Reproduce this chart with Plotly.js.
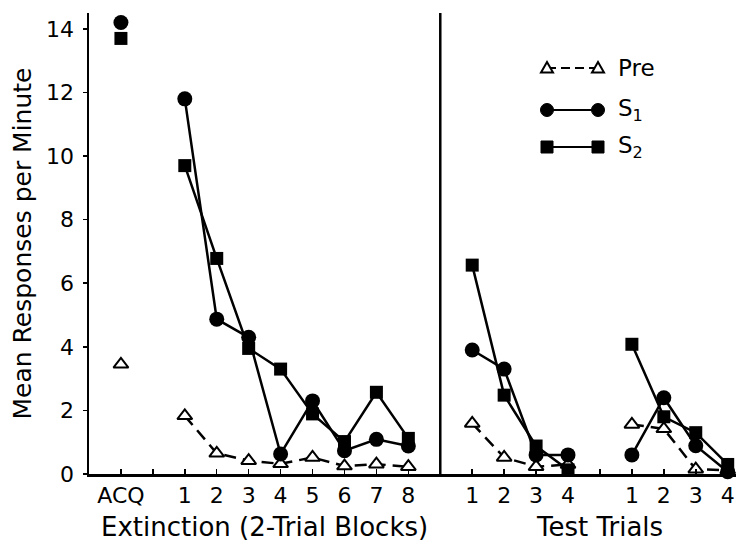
<!DOCTYPE html>
<html>
<head>
<meta charset="utf-8">
<script src="https://cdn.plot.ly/plotly-3.0.1.min.js"></script>
<style>html,body{margin:0;padding:0;background:#fff;}#chart{width:736px;height:547px;}</style>
</head>
<body>
<div id="chart"></div>
<script>
// ---- data ----
const acqLabel = 'ACQ';
const extBlocks = ['1','2','3','4','5','6','7','8'];
const testTrials = ['1','2','3','4'];
const seriesNames = ['Pre', 'S<sub>1</sub>', 'S<sub>2</sub>'];

const preAcq = 3.45;
const s1Acq = 14.2;
const s2Acq = 13.7;

const preExt = [1.83, 0.65, 0.42, 0.32, 0.52, 0.25, 0.31, 0.23];
const s1Ext  = [11.8, 4.87, 4.3, 0.63, 2.3, 0.73, 1.09, 0.88];
const s2Ext  = [9.7, 6.78, 3.95, 3.3, 1.89, 1.02, 2.57, 1.12];

const preTest1 = [1.59, 0.52, 0.23, 0.3];
const s1Test1  = [3.9, 3.3, 0.6, 0.6];
const s2Test1  = [6.57, 2.48, 0.88, 0.13];

const preTest2 = [1.56, 1.42, 0.15, 0.12];
const s1Test2  = [0.6, 2.4, 0.89, 0.07];
const s2Test2  = [4.08, 1.8, 1.3, 0.3];

// ---- positions on a shared numeric x axis ----
const xAcq = 0;
const xExt = extBlocks.map((_, i) => 2 + i);          // 2..9
const dividerX = 10;
const xTest1 = testTrials.map((_, i) => 11 + i);      // 11..14
const xTest2 = testTrials.map((_, i) => 16 + i);      // 16..19

function build(acq, ext, t1, t2) {
  const x = [xAcq, null].concat(xExt, [null], xTest1, [null], xTest2);
  const y = [acq, null].concat(ext, [null], t1, [null], t2);
  return {x, y};
}

const tickvals = [xAcq].concat(xExt, xTest1, xTest2);
const ticktext = [acqLabel].concat(extBlocks, testTrials, testTrials);

const pre = build(preAcq, preExt, preTest1, preTest2);
const s1 = build(s1Acq, s1Ext, s1Test1, s1Test2);
const s2 = build(s2Acq, s2Ext, s2Test1, s2Test2);

const traces = [
  {x: pre.x, y: pre.y, name: seriesNames[0], type: 'scatter', mode: 'lines+markers', connectgaps: false,
   cliponaxis: false, showlegend: false,
   line: {color: '#000', width: 2.5, dash: '12px,7px'},
   marker: {symbol: 'triangle-up', size: 13, color: '#fff', line: {color: '#000', width: 2}}},
  {x: s1.x, y: s1.y, name: seriesNames[1], type: 'scatter', mode: 'lines+markers', connectgaps: false,
   cliponaxis: false, showlegend: false,
   line: {color: '#000', width: 2.5},
   marker: {symbol: 'circle', size: 15, color: '#000'}},
  {x: s2.x, y: s2.y, name: seriesNames[2], type: 'scatter', mode: 'lines+markers', connectgaps: false,
   cliponaxis: false, showlegend: false,
   line: {color: '#000', width: 2.5},
   marker: {symbol: 'square', size: 13, color: '#000'}}
];

const font = 'DejaVu Sans, Liberation Sans, Arial, sans-serif';

// ---- page geometry (pixels) ----
const W = 736, H = 547;
const M = {l: 89, r: 0, t: 13, b: 73};
const PW = W - M.l - M.r, PH = H - M.t - M.b;
const px2paperX = px => (px - M.l) / PW;
const px2paperY = py => (H - M.b - py) / PH;

// ---- hand-built legend (two markers joined by a line, like the original) ----
const legRows = [68, 110, 147];
const legLeft = 547, legRight = 598, legText = 616;
const legShapes = [];
const legAnn = [];
legRows.forEach((py, i) => {
  const yP = px2paperY(py);
  legShapes.push({type: 'line', xref: 'paper', yref: 'paper',
    x0: px2paperX(legLeft), x1: px2paperX(legRight), y0: yP, y1: yP,
    line: {color: '#000', width: 2, dash: i === 0 ? '9px,5px' : 'solid'}});
  [legLeft, legRight].forEach(mx => {
    const base = {xref: 'paper', yref: 'paper', xsizemode: 'pixel', ysizemode: 'pixel',
                  xanchor: px2paperX(mx), yanchor: yP};
    if (i === 0) {
      legShapes.push(Object.assign({type: 'path', path: 'M-6,-4.5 L6,-4.5 L0,6 Z',
        fillcolor: '#fff', line: {color: '#000', width: 2}}, base));
    } else if (i === 1) {
      legShapes.push(Object.assign({type: 'circle', x0: -6.5, x1: 6.5, y0: -6.5, y1: 6.5,
        fillcolor: '#000', line: {color: '#000', width: 1}}, base));
    } else {
      legShapes.push(Object.assign({type: 'rect', x0: -6, x1: 6, y0: -6, y1: 6,
        fillcolor: '#000', line: {color: '#000', width: 1}}, base));
    }
  });
  legAnn.push({text: seriesNames[i], xref: 'paper', yref: 'paper', x: px2paperX(legText), y: yP,
    xanchor: 'left', yanchor: 'middle', showarrow: false, font: {size: 23, family: font}});
});

const layout = {
  width: W, height: H,
  margin: M,
  paper_bgcolor: '#fff', plot_bgcolor: '#fff',
  font: {family: font, color: '#000', size: 22},
  showlegend: false,
  xaxis: {
    range: [-1, 19.26], showgrid: false, zeroline: false,
    showline: true, linecolor: '#000', linewidth: 2.5,
    ticks: 'inside', ticklen: 5, tickwidth: 1.5, tickcolor: '#000',
    tickmode: 'array', tickvals: tickvals, ticktext: ticktext,
    tickfont: {size: 22, family: font},
    minor: {ticks: 'inside', ticklen: 5, tickwidth: 1.5, tickcolor: '#000', tick0: 0, dtick: 1, showgrid: false}
  },
  yaxis: {
    range: [0, 14.5], showgrid: false, zeroline: false,
    showline: true, linecolor: '#000', linewidth: 2.5,
    ticks: 'outside', ticklen: 4, tickwidth: 1.5, tickcolor: '#000',
    tickvals: [0, 2, 4, 6, 8, 10, 12, 14], ticklabelstandoff: 4,
    tickfont: {size: 22, family: font},
    title: {text: 'Mean Responses per Minute', font: {size: 25, family: font}, standoff: 8}
  },
  shapes: [
    {type: 'line', xref: 'x', yref: 'y', x0: dividerX, x1: dividerX, y0: 0, y1: 14.5,
     line: {color: '#000', width: 2.5}}
  ].concat(legShapes),
  annotations: [
    {text: 'Extinction (2-Trial Blocks)', xref: 'x', yref: 'paper', x: (xAcq + xExt[xExt.length-1]) / 2,
     y: px2paperY(527), yanchor: 'middle', showarrow: false, font: {size: 26, family: font}},
    {text: 'Test Trials', xref: 'x', yref: 'paper', x: (xTest1[0] + xTest2[xTest2.length-1]) / 2,
     y: px2paperY(527), yanchor: 'middle', showarrow: false, font: {size: 26, family: font}}
  ].concat(legAnn)
};

Plotly.newPlot('chart', traces, layout, {displayModeBar: false, staticPlot: true});
</script>
</body>
</html>
